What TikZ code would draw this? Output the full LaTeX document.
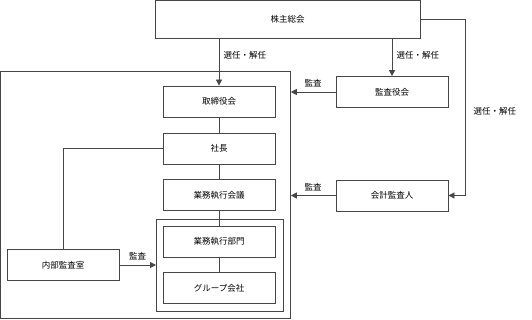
\documentclass[tikz,border=0pt]{standalone}
\usepackage{fontspec}
\setmainfont{Noto Sans CJK JP}
\usepackage{tikz}
\usetikzlibrary{arrows.meta, positioning, calc}
\definecolor{linegray}{RGB}{70,70,70}

\begin{document}
\begin{tikzpicture}[x=1pt, y=-1pt, font=\fontsize{8.5}{10}\selectfont,
    orgbox/.style={draw=linegray, line width=0.8pt, minimum width=112pt, minimum height=31pt, inner sep=2pt},
    frame/.style={draw=linegray, line width=0.8pt, inner sep=0pt, anchor=north west},
    link/.style={draw=linegray, line width=0.8pt},
    arrow/.style={link, -{Triangle[length=6pt, width=6pt]}}]
        \useasboundingbox (0,0) rectangle (532,320);
        % frames
        \node[frame, minimum width=290pt, minimum height=247pt] (company) at (0,71) {};
        \node[frame, minimum width=127pt, minimum height=92pt] (group) at (156,219) {};
        % boxes
        \node[orgbox, minimum width=265pt, minimum height=38pt] (meeting) at (287.5,19) {株主総会};
        \node[orgbox] (board) at (219,101.5) {取締役会};
        \node[orgbox] (ceo) at (219,148.5) {社長};
        \node[orgbox] (exec) at (219,195) {業務執行会議};
        \node[orgbox] (dept) at (219,241.5) {業務執行部門};
        \node[orgbox] (subs) at (219,288) {グループ会社};
        \node[orgbox] (internal) at (63,265) {内部監査室};
        \node[orgbox] (auditors) at (392,92) {監査役会};
        \node[orgbox] (accountant) at (392,195.5) {会計監査人};
        \coordinate (turn) at (465,19);
        
        \draw[arrow] (meeting.south -| board.north) -- (board.north) node[pos=0.35, right=1pt] {選任・解任};
        \draw[arrow] (meeting.south -| auditors.north) -- (auditors.north) node[pos=0.45, right=1pt] {選任・解任};
        \draw[arrow] (meeting.east) -- (turn) |- (accountant.east) node[pos=0.26, right=5pt] {選任・解任};
        \draw[arrow] (auditors.west) -- (auditors.west -| company.east) node[midway, above=1pt] {監査};
        \draw[arrow] (accountant.west) -- (accountant.west -| company.east) node[midway, above=1pt] {監査};
        \draw[arrow] (internal.east) -- (internal.east -| group.west) node[midway, above=1pt] {監査};
        \draw[link] (internal.north) |- (ceo.west);
        \draw[link] (board) -- (ceo);
        \draw[link] (ceo) -- (exec);
        \draw[link] (exec) -- (dept);
        \draw[link] (dept) -- (subs);
        \end{tikzpicture}
\end{document}
